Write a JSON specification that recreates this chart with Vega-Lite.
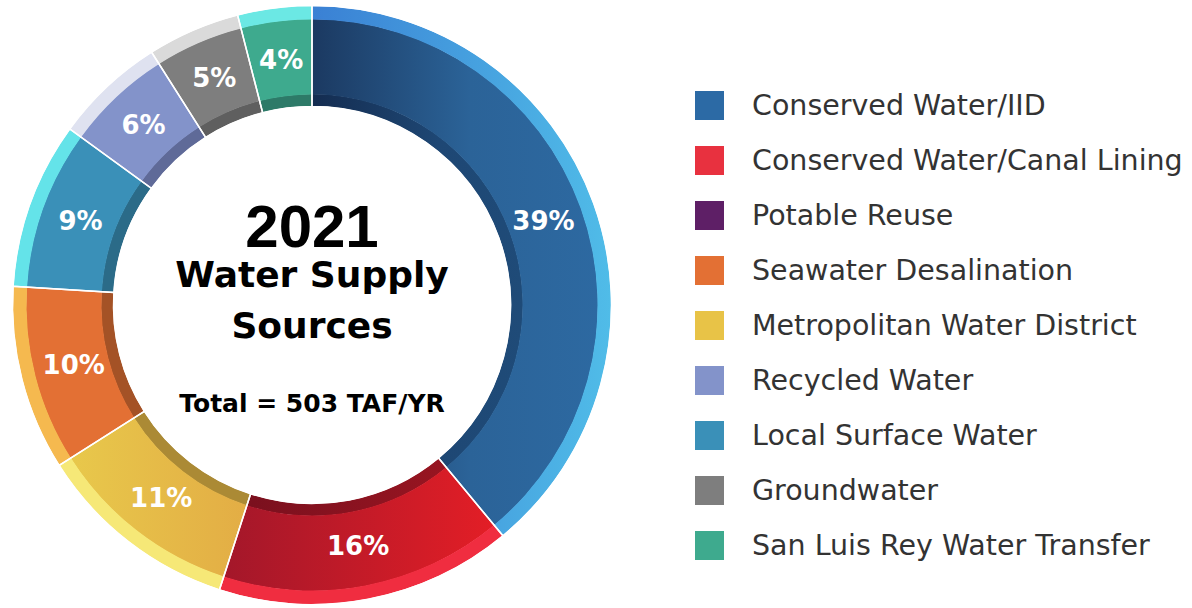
{
  "$schema": "https://vega.github.io/schema/vega-lite/v6.json",
  "width": 624,
  "height": 610,
  "padding": 0,
  "autosize": {"type": "pad"},
  "background": "white",
  "config": {"view": {"stroke": null}},
  "data": {
    "values": [
      {"source": "Conserved Water/IID", "value": 39, "order": 1, "label": "39%"},
      {"source": "Conserved Water/Canal Lining", "value": 16, "order": 2, "label": "16%"},
      {"source": "Potable Reuse", "value": 0, "order": 3, "label": ""},
      {"source": "Metropolitan Water District", "value": 11, "order": 4, "label": "11%"},
      {"source": "Seawater Desalination", "value": 10, "order": 5, "label": "10%"},
      {"source": "Local Surface Water", "value": 9, "order": 6, "label": "9%"},
      {"source": "Recycled Water", "value": 6, "order": 7, "label": "6%"},
      {"source": "Groundwater", "value": 5, "order": 8, "label": "5%"},
      {"source": "San Luis Rey Water Transfer", "value": 4, "order": 9, "label": "4%"}
    ]
  },
  "layer": [
    {
      "transform": [{"filter": "datum.value > 0"}],
      "mark": {"type": "arc", "radius": 211, "radius2": 199},
      "encoding": {
        "theta": {"field": "value", "type": "quantitative", "stack": true},
        "order": {"field": "order", "type": "quantitative"},
        "color": {
          "field": "source", "type": "nominal", "legend": null,
          "scale": {
            "domain": ["Conserved Water/IID", "Conserved Water/Canal Lining", "Potable Reuse", "Seawater Desalination", "Metropolitan Water District", "Recycled Water", "Local Surface Water", "Groundwater", "San Luis Rey Water Transfer"],
            "range": ["#1f4a76", "#86121f", "#3e1444", "#a45226", "#ab8a35", "#5f6a98", "#2b6b88", "#5f5f5f", "#2d7a68"]
          },
          "condition": [
            {"test": "datum.source === 'Conserved Water/IID'", "value": {"gradient": "linear", "x1": 0, "y1": 0, "x2": 1, "y2": 0, "stops": [{"offset": 0, "color": "#142c50"}, {"offset": 0.6, "color": "#1e4774"}, {"offset": 1, "color": "#1f4b78"}]}},
            {"test": "datum.source === 'Conserved Water/Canal Lining'", "value": {"gradient": "linear", "x1": 0, "y1": 0, "x2": 1, "y2": 0, "stops": [{"offset": 0, "color": "#7a101e"}, {"offset": 1, "color": "#981521"}]}}
          ]
        }
      }
    },
    {
      "transform": [{"filter": "datum.value > 0"}],
      "mark": {"type": "arc", "radius": 286, "radius2": 210.5},
      "encoding": {
        "theta": {"field": "value", "type": "quantitative", "stack": true},
        "order": {"field": "order", "type": "quantitative"},
        "color": {
          "field": "source", "type": "nominal",
          "scale": {
            "domain": ["Conserved Water/IID", "Conserved Water/Canal Lining", "Potable Reuse", "Seawater Desalination", "Metropolitan Water District", "Recycled Water", "Local Surface Water", "Groundwater", "San Luis Rey Water Transfer"],
            "range": ["#2c6aa5", "#e8313f", "#5e1f66", "#e37034", "#e8c347", "#8393ca", "#3a90b8", "#7e7e7e", "#3eaa8e"]
          },
          "legend": {
            "title": null, "orient": "none", "legendX": 695, "legendY": 91,
            "padding": 0, "symbolType": "square", "symbolSize": 841, "symbolStrokeWidth": 0, "symbolOpacity": 1,
            "labelFont": "DejaVu Sans", "labelFontSize": 28.5, "labelColor": "#333333", "labelOffset": 28, "labelLimit": 0,
            "rowPadding": 26
          },
          "condition": [
            {"test": "datum.source === 'Conserved Water/IID'", "value": {"gradient": "linear", "x1": 0, "y1": 0, "x2": 1, "y2": 0, "stops": [{"offset": 0, "color": "#1b3961"}, {"offset": 0.55, "color": "#2b6398"}, {"offset": 1, "color": "#2d69a1"}]}},
            {"test": "datum.source === 'Conserved Water/Canal Lining'", "value": {"gradient": "linear", "x1": 0, "y1": 0, "x2": 1, "y2": 0, "stops": [{"offset": 0, "color": "#a3172a"}, {"offset": 1, "color": "#e31e26"}]}},
            {"test": "datum.source === 'Metropolitan Water District'", "value": {"gradient": "linear", "x1": 0, "y1": 0, "x2": 1, "y2": 0, "stops": [{"offset": 0, "color": "#e8c84b"}, {"offset": 1, "color": "#e3ad45"}]}}
          ]
        }
      }
    },
    {
      "transform": [{"filter": "datum.value > 0"}],
      "mark": {"type": "arc", "radius": 299, "radius2": 285.5},
      "encoding": {
        "theta": {"field": "value", "type": "quantitative", "stack": true},
        "order": {"field": "order", "type": "quantitative"},
        "color": {
          "field": "source", "type": "nominal", "legend": null,
          "scale": {
            "domain": ["Conserved Water/IID", "Conserved Water/Canal Lining", "Potable Reuse", "Seawater Desalination", "Metropolitan Water District", "Recycled Water", "Local Surface Water", "Groundwater", "San Luis Rey Water Transfer"],
            "range": ["#4ab5e6", "#f02d40", "#8a3a90", "#f5b94f", "#f6e877", "#dfe2f0", "#64e3e9", "#dadada", "#6be8e4"]
          },
          "condition": [
            {"test": "datum.source === 'Conserved Water/IID'", "value": {"gradient": "linear", "x1": 0, "y1": 0, "x2": 1, "y2": 0, "stops": [{"offset": 0, "color": "#3a80d4"}, {"offset": 1, "color": "#50bce8"}]}}
          ]
        }
      }
    },
    {
      "transform": [{"filter": "datum.value > 0"}],
      "mark": {"type": "arc", "radius": 299.5, "radius2": 198.5, "filled": false, "stroke": "white", "strokeWidth": 1.5},
      "encoding": {
        "theta": {"field": "value", "type": "quantitative", "stack": true},
        "order": {"field": "order", "type": "quantitative"}
      }
    },
    {
      "transform": [{"filter": "datum.value > 0"}],
      "mark": {"type": "text", "radius": 246, "font": "DejaVu Sans", "fontWeight": "bold", "fontSize": 26, "fill": "white", "align": "center", "baseline": "middle"},
      "encoding": {
        "theta": {"field": "value", "type": "quantitative", "stack": true},
        "order": {"field": "order", "type": "quantitative"},
        "text": {"field": "label", "type": "nominal"}
      }
    },
    {
      "data": {"values": [{"t": "2021"}]},
      "mark": {"type": "text", "font": "Liberation Sans", "fontWeight": "bold", "fontSize": 60, "fill": "#000000", "align": "center", "baseline": "alphabetic", "dy": -58},
      "encoding": {"text": {"field": "t", "type": "nominal"}}
    },
    {
      "data": {"values": [{"t": "Water Supply"}]},
      "mark": {"type": "text", "font": "DejaVu Sans", "fontWeight": "bold", "fontSize": 36, "fill": "#000000", "align": "center", "baseline": "alphabetic", "dy": -18},
      "encoding": {"text": {"field": "t", "type": "nominal"}}
    },
    {
      "data": {"values": [{"t": "Sources"}]},
      "mark": {"type": "text", "font": "DejaVu Sans", "fontWeight": "bold", "fontSize": 36, "fill": "#000000", "align": "center", "baseline": "alphabetic", "dy": 33},
      "encoding": {"text": {"field": "t", "type": "nominal"}}
    },
    {
      "data": {"values": [{"t": "Total = 503 TAF/YR"}]},
      "mark": {"type": "text", "font": "DejaVu Sans", "fontWeight": "bold", "fontSize": 25, "fill": "#000000", "align": "center", "baseline": "alphabetic", "dy": 107},
      "encoding": {"text": {"field": "t", "type": "nominal"}}
    }
  ],
  "resolve": {"scale": {"color": "independent"}}
}
